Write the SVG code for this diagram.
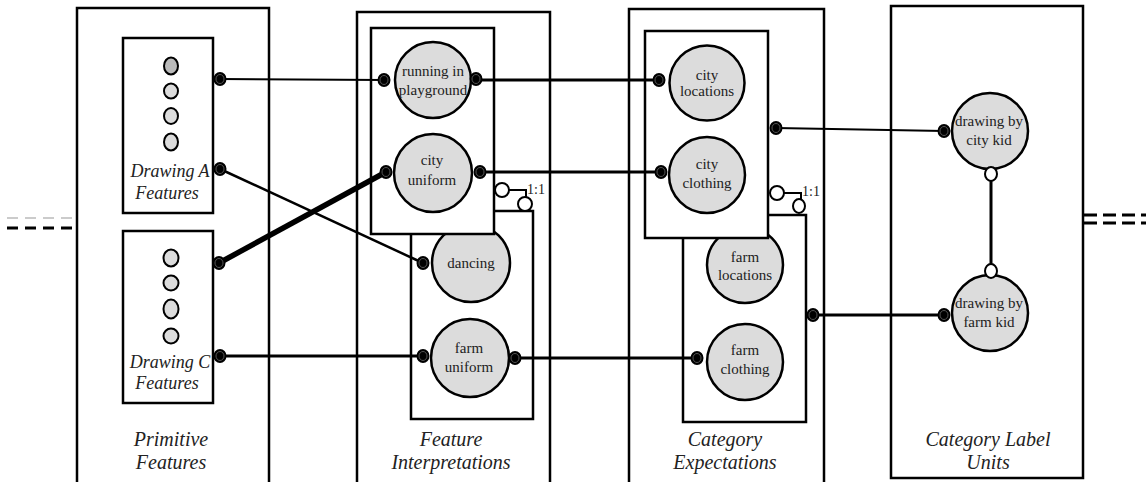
<svg xmlns="http://www.w3.org/2000/svg" width="1146" height="482" viewBox="0 0 1146 482">
<defs>
<style>
.col{fill:#fff;stroke:#000;stroke-width:2.5}
.box{fill:#fff;stroke:#000;stroke-width:2.5}
.node{fill:#dcdcdc;stroke:#000;stroke-width:2.5}
.feat{fill:#dcdcdc;stroke:#000;stroke-width:2}
.lbl{font-family:'Liberation Serif','DejaVu Serif',serif;font-size:15px;fill:#222;text-anchor:middle}
.ital{font-family:'Liberation Serif','DejaVu Serif',serif;font-size:20px;font-style:italic;fill:#222;text-anchor:middle}
.itin{font-family:'Liberation Serif','DejaVu Serif',serif;font-size:18px;font-style:italic;fill:#222;text-anchor:middle}
.small{font-family:'Liberation Serif','DejaVu Serif',serif;font-size:14px;fill:#222}
.ln{stroke:#000;fill:none}
.open{fill:#fff;stroke:#000;stroke-width:2}
</style>
<g id="port"><ellipse rx="6.5" ry="7" fill="#000"/><ellipse rx="4" ry="4.5" fill="none" stroke="#555" stroke-width="1"/></g>
</defs>
<rect width="1146" height="482" fill="#fff"/>

<g id="dashes">
<line x1="7" y1="218" x2="72" y2="218" stroke="#bbb" stroke-width="1.5" stroke-dasharray="11 7"/>
<line x1="7" y1="228" x2="72" y2="228" stroke="#000" stroke-width="3" stroke-dasharray="11 7"/>
<line x1="1084" y1="215" x2="1146" y2="215" stroke="#000" stroke-width="3" stroke-dasharray="13 6"/>
<line x1="1084" y1="223" x2="1146" y2="223" stroke="#000" stroke-width="3" stroke-dasharray="13 6"/>
</g>

<g id="col-primitive">
<rect class="col" x="77" y="8" width="192" height="490"/>
<text class="ital" x="171" y="446">Primitive</text>
<text class="ital" x="171" y="469">Features</text>
</g>
<g id="drawingA">
<rect class="box" x="123" y="38" width="90" height="175"/>
<ellipse cx="171" cy="66" rx="7" ry="8.5" fill="#bbb" stroke="#000" stroke-width="2"/>
<ellipse class="feat" cx="171" cy="91" rx="7" ry="7.5"/>
<ellipse class="feat" cx="171" cy="116" rx="7" ry="8"/>
<ellipse class="feat" cx="171" cy="142" rx="7" ry="8.5"/>
<text class="itin" x="170" y="177">Drawing A</text>
<text class="itin" x="167" y="199">Features</text>
</g>
<g id="drawingC">
<rect class="box" x="123" y="231" width="90" height="172"/>
<ellipse class="feat" cx="171" cy="258" rx="7.5" ry="8.5"/>
<ellipse class="feat" cx="171" cy="283" rx="7.5" ry="7.5"/>
<ellipse class="feat" cx="171" cy="309" rx="7.5" ry="9.5"/>
<ellipse class="feat" cx="171" cy="336" rx="7.5" ry="7.5"/>
<text class="itin" x="170" y="368">Drawing C</text>
<text class="itin" x="167" y="389">Features</text>
</g>

<g id="col-interp">
<rect class="col" x="357" y="12" width="193" height="490"/>
<text class="ital" x="451" y="446">Feature</text>
<text class="ital" x="451" y="469">Interpretations</text>
</g>
<g id="interp-farm">
<rect class="box" x="411" y="211" width="122" height="208"/>
<circle class="node" cx="471" cy="263" r="39"/>
<text class="lbl" x="471" y="268">dancing</text>
<circle class="node" cx="470" cy="358" r="39"/>
<text class="lbl" x="469" y="353">farm</text>
<text class="lbl" x="469" y="372">uniform</text>
</g>
<g id="interp-city">
<rect class="box" x="371" y="28" width="123" height="206"/>
<circle class="node" cx="433" cy="80" r="38"/>
<text class="lbl" x="433" y="76">running in</text>
<text class="lbl" x="433" y="95">playground</text>
<circle class="node" cx="433" cy="173" r="39"/>
<text class="lbl" x="432" y="165">city</text>
<text class="lbl" x="432" y="185">uniform</text>
</g>
<g id="interp-11">
<circle class="open" cx="502" cy="190" r="7"/>
<circle class="open" cx="525" cy="204" r="7"/>
<path class="ln" d="M509 190 H526 V197" style="stroke-width:2"/>
<text class="small" x="527" y="194">1:1</text>
</g>

<g id="col-expect">
<rect class="col" x="629" y="9" width="195" height="490"/>
<text class="ital" x="725" y="446">Category</text>
<text class="ital" x="725" y="469">Expectations</text>
</g>
<g id="expect-farm">
<rect class="box" x="683" y="215" width="123" height="207"/>
<circle class="node" cx="745" cy="265" r="38"/>
<text class="lbl" x="745" y="262">farm</text>
<text class="lbl" x="745" y="280">locations</text>
<circle class="node" cx="745" cy="362" r="38"/>
<text class="lbl" x="745" y="355">farm</text>
<text class="lbl" x="745" y="374">clothing</text>
</g>
<g id="expect-city">
<rect class="box" x="645" y="31" width="123" height="207"/>
<circle class="node" cx="707" cy="83" r="37.5"/>
<text class="lbl" x="707" y="80">city</text>
<text class="lbl" x="707" y="96">locations</text>
<circle class="node" cx="707" cy="175" r="38"/>
<text class="lbl" x="707" y="169">city</text>
<text class="lbl" x="707" y="188">clothing</text>
</g>
<g id="expect-11">
<circle class="open" cx="777" cy="193" r="7"/>
<ellipse class="open" cx="799" cy="206" rx="6" ry="7"/>
<path class="ln" d="M784 193 H801 V199" style="stroke-width:2"/>
<text class="small" x="802" y="196">1:1</text>
</g>

<g id="col-labels">
<rect class="col" x="891" y="6" width="192" height="472"/>
<text class="ital" x="988" y="446">Category Label</text>
<text class="ital" x="988" y="469">Units</text>
</g>
<g id="citykid">
<circle class="node" cx="990" cy="131" r="38"/>
<text class="lbl" x="989" y="126">drawing by</text>
<text class="lbl" x="989" y="145">city kid</text>
</g>
<g id="farmkid">
<circle class="node" cx="990" cy="313" r="38"/>
<text class="lbl" x="989" y="308">drawing by</text>
<text class="lbl" x="989" y="327">farm kid</text>
</g>

<g id="connectors">
<line class="ln" x1="220" y1="79" x2="384" y2="80" style="stroke-width:2"/>
<line class="ln" x1="220" y1="169" x2="423" y2="263" style="stroke-width:2.5"/>
<line class="ln" x1="219" y1="263" x2="386" y2="172" style="stroke-width:5.5"/>
<line class="ln" x1="220" y1="356" x2="423" y2="356" style="stroke-width:3"/>
<line class="ln" x1="476" y1="80" x2="659" y2="80" style="stroke-width:3"/>
<line class="ln" x1="480" y1="172" x2="661" y2="172" style="stroke-width:3"/>
<line class="ln" x1="515" y1="358" x2="697" y2="358" style="stroke-width:3"/>
<line class="ln" x1="776" y1="128" x2="944" y2="131" style="stroke-width:2"/>
<line class="ln" x1="813" y1="315" x2="944" y2="315" style="stroke-width:3"/>
<line class="ln" x1="991" y1="181" x2="991" y2="264" style="stroke-width:3"/>
<ellipse class="open" cx="991" cy="174" rx="6" ry="7"/>
<ellipse class="open" cx="991" cy="271" rx="6" ry="7"/>
<use href="#port" x="220" y="79"/>
<use href="#port" x="220" y="169"/>
<use href="#port" x="219" y="263"/>
<use href="#port" x="220" y="356"/>
<use href="#port" x="384" y="80"/>
<use href="#port" x="476" y="79"/>
<use href="#port" x="386" y="172"/>
<use href="#port" x="480" y="172"/>
<use href="#port" x="423" y="263"/>
<use href="#port" x="423" y="356"/>
<use href="#port" x="515" y="358"/>
<use href="#port" x="659" y="80"/>
<use href="#port" x="661" y="172"/>
<use href="#port" x="776" y="128"/>
<use href="#port" x="813" y="315"/>
<use href="#port" x="697" y="358"/>
<use href="#port" x="944" y="131"/>
<use href="#port" x="944" y="315"/>
</g>
</svg>
